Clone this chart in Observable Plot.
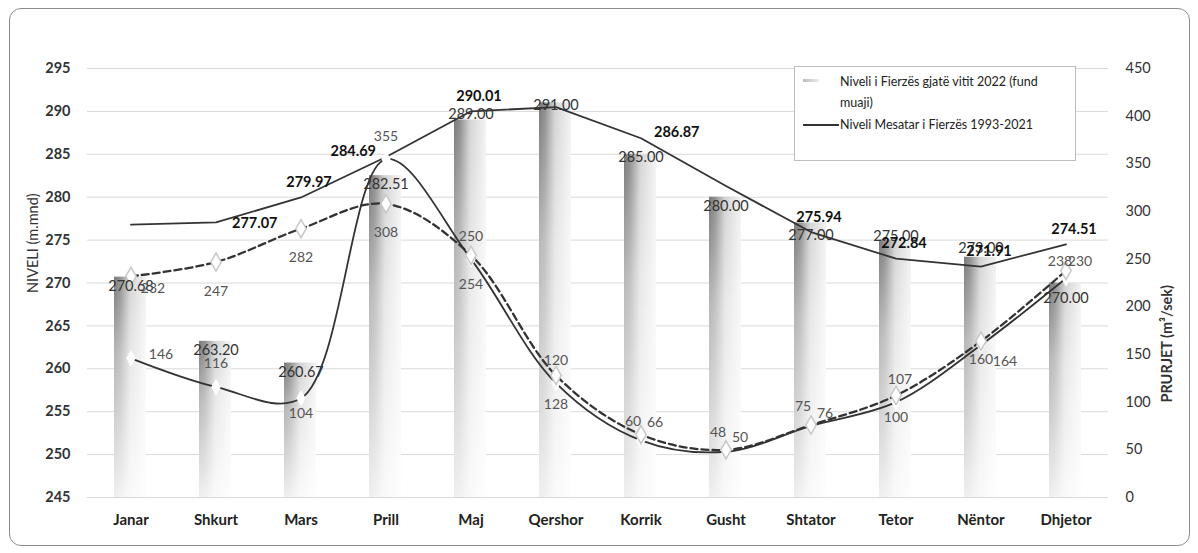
<!DOCTYPE html>
<html><head><meta charset="utf-8">
<script src="https://cdn.jsdelivr.net/npm/d3@7"></script>
<script src="https://cdn.jsdelivr.net/npm/@observablehq/plot@0.6"></script>
<style>
body{margin:0;background:#fff;font-family:Lato,"Open Sans",sans-serif;}
#wrap{position:relative;width:1198px;height:553px;overflow:hidden;}
#border{position:absolute;left:9px;top:8px;width:1179px;height:536px;border:1.5px solid #8c8c8c;border-radius:12px;pointer-events:none;}
#legend{position:absolute;left:794px;top:66px;width:280px;height:93px;border:1px solid #bdbdbd;background:#fff;font-size:12.5px;color:#222;}
#legend .t{position:absolute;left:45px;white-space:nowrap;line-height:21px;}
#legend .sw1{position:absolute;left:8px;top:12px;width:16px;height:3px;background:linear-gradient(90deg,#bbb,#eee);}
#legend .sw2{position:absolute;left:8px;top:57px;width:36px;height:2px;background:#333;}
</style></head>
<body>
<div id="wrap">
  <div id="chart"></div>
  <div id="legend">
    <div class="sw1"></div>
    <div class="t" style="top:4px">Niveli i Fierzës gjatë vitit 2022 (fund<br>muaji)</div>
    <div class="sw2"></div>
    <div class="t" style="top:47px">Niveli Mesatar i Fierzës 1993-2021</div>
  </div>
  <div id="border"></div>
</div>
<script>
const months = ["Janar","Shkurt","Mars","Prill","Maj","Qershor","Korrik","Gusht","Shtator","Tetor","Nëntor","Dhjetor"];
const level2022 = [270.68, 263.20, 260.67, 282.51, 289.00, 291.00, 285.00, 280.00, 277.00, 275.00, 273.00, 270.00];
const levelAvg  = [276.8, 277.07, 279.97, 284.69, 290.01, 290.5, 286.87, 281.3, 275.94, 272.84, 271.91, 274.51];
const flowSolid  = [146, 116, 104, 355, 250, 120, 60, 48, 75, 100, 160, 230];
const flowDashed = [232, 247, 282, 308, 254, 128, 66, 50, 76, 107, 164, 238];
const levelTicks = d3.range(245, 296, 5);
const flowTicks = d3.range(0, 451, 50);
const avgHidden = ["Janar","Qershor","Gusht"];

const L0 = 245, L1 = 295, F1 = 450;
const toLevel = f => L0 + f / F1 * (L1 - L0);
const rows = months.map((m, i) => ({
  month: m, level: level2022[i], avg: levelAvg[i],
  fs: toLevel(flowSolid[i]), fd: toLevel(flowDashed[i]),
  fsV: flowSolid[i], fdV: flowDashed[i]
}));
const pick = list => rows.filter(r => list.includes(r.month));

function lbl(list, y, text, o) {
  return Plot.text(pick(list), Object.assign({x: "month", y, text, fontSize: 14}, o));
}

const flowStyle = {fill: "#555"};
const avgStyle = {fill: "#111", fontWeight: "bold", fontSize: 14.5};
const barStyle = {fill: "#333", fontSize: 14.5};
const avgShown = months.filter(m => !avgHidden.includes(m));
const barText = d => d.level.toFixed(2);

const chart = Plot.plot({
  width: 1198, height: 553,
  marginLeft: 87, marginRight: 90, marginTop: 68, marginBottom: 56,
  style: {fontFamily: "Lato, 'Open Sans', sans-serif", fontSize: "14px", color: "#222", background: "transparent"},
  x: {domain: months, padding: 0},
  y: {domain: [L0, L1]},
  marks: [
    Plot.gridY(levelTicks, {stroke: "#d9d9d9", strokeOpacity: 1}),
    Plot.barY(rows, {x: "month", y1: L0, y2: "level", fill: "url(#hgrad)", insetLeft: 26, insetRight: 27}),
    Plot.barY(rows, {x: "month", y1: L0, y2: "level", fill: "url(#vgrad)", insetLeft: 26, insetRight: 27}),
    Plot.line(rows, {x: "month", y: "avg", stroke: "#333", strokeWidth: 1.8}),
    Plot.line(rows, {x: "month", y: "fs", curve: "catmull-rom", stroke: "#333", strokeWidth: 1.8}),
    Plot.line(rows, {x: "month", y: "fd", curve: "catmull-rom", stroke: "#333", strokeWidth: 2.3, strokeDasharray: "7,4"}),
    Plot.dot(rows, {x: "month", y: "fs", symbol: "diamond", r: 5, fill: "white", stroke: "none"}),
    Plot.dot(rows, {x: "month", y: "fd", symbol: "diamond", r: 5.5, fill: "white", stroke: "#c8c8c8"}),
    // bar labels
    lbl(["Janar","Shkurt","Mars","Prill","Gusht"], "level", barText, {...barStyle, dy: 9}),
    lbl(["Shtator"], "level", barText, {...barStyle, dy: 12}),
    lbl(["Qershor","Korrik"], "level", barText, {...barStyle, dy: 3}),
    lbl(["Maj"], "level", barText, {...barStyle, dy: -6}),
    lbl(["Tetor"], "level", barText, {...barStyle, dy: -4}),
    lbl(["Nëntor"], "level", barText, {...barStyle, dy: -9}),
    lbl(["Dhjetor"], "level", barText, {...barStyle, dy: 15}),
    // average level labels
    lbl(avgShown.filter(m => !["Shkurt","Prill","Korrik"].includes(m)), "avg", d => d.avg.toFixed(2), {...avgStyle, dx: 8, dy: -15}),
    lbl(["Shkurt"], "avg", d => d.avg.toFixed(2), {...avgStyle, textAnchor: "start", dx: 16, dy: 1}),
    lbl(["Korrik"], "avg", d => d.avg.toFixed(2), {...avgStyle, textAnchor: "start", dx: 13, dy: -6}),
    lbl(["Prill"], "avg", d => d.avg.toFixed(2), {...avgStyle, textAnchor: "end", dx: -10, dy: -6}),
    // solid flow labels
    lbl(["Janar"], "fs", d => d.fsV, {...flowStyle, dx: 30, dy: -4}),
    lbl(["Shkurt","Prill","Maj","Qershor"], "fs", d => d.fsV, {...flowStyle, dy: -23}),
    lbl(["Korrik","Gusht","Shtator"], "fs", d => d.fsV, {...flowStyle, dx: -8, dy: -19}),
    lbl(["Dhjetor"], "fs", d => d.fsV, {...flowStyle, dx: 14, dy: -17}),
    lbl(["Mars","Tetor","Nëntor"], "fs", d => d.fsV, {...flowStyle, dy: 15}),
    // dashed flow labels
    lbl(["Janar"], "fd", d => d.fdV, {...flowStyle, dx: 22, dy: 12}),
    lbl(["Shkurt","Mars","Prill","Maj","Qershor"], "fd", d => d.fdV, {...flowStyle, dy: 29}),
    lbl(["Nëntor"], "fd", d => d.fdV, {...flowStyle, dx: 24, dy: 20}),
    lbl(["Korrik","Gusht","Shtator"], "fd", d => d.fdV, {...flowStyle, dx: 14, dy: -12}),
    lbl(["Tetor"], "fd", d => d.fdV, {...flowStyle, dx: 4, dy: -16}),
    lbl(["Dhjetor"], "fd", d => d.fdV, {...flowStyle, dx: -6, dy: -9}),
    // axes
    Plot.axisY(levelTicks, {anchor: "left", tickSize: 0, tickPadding: 17, fontWeight: "bold", fontSize: 14.5, fill: "#333", label: null}),
    Plot.axisY(flowTicks.map(toLevel), {anchor: "right", tickSize: 0, tickPadding: 17, fontSize: 14.5, fill: "#333", label: null,
      tickFormat: d => Math.round((d - L0) / (L1 - L0) * F1)}),
    Plot.axisX({tickSize: 0, tickPadding: 17, fontWeight: "bold", fontSize: 15, fill: "#222", label: null}),
    Plot.text(["NIVELI (m.mnd)"], {frameAnchor: "left", dx: -54, dy: 10, rotate: -90, fontSize: 14.5, fill: "#333"}),
    Plot.text(["PRURJET (m³/sek)"], {frameAnchor: "right", dx: 59, dy: 2, rotate: -90, fontSize: 14.5, fontWeight: "bold", fill: "#333"})
  ]
});

const ns = "http://www.w3.org/2000/svg";
const defs = document.createElementNS(ns, "defs");
defs.innerHTML = `
<linearGradient id="hgrad" x1="0" y1="0" x2="1" y2="0">
  <stop offset="0" stop-color="#7a7a7a"/>
  <stop offset="0.18" stop-color="#8e8e8e"/>
  <stop offset="0.5" stop-color="#d4d4d4"/>
  <stop offset="1" stop-color="#f3f3f3"/>
</linearGradient>
<linearGradient id="vgrad" x1="0" y1="0" x2="0" y2="1">
  <stop offset="0" stop-color="#fff" stop-opacity="0"/>
  <stop offset="0.35" stop-color="#fff" stop-opacity="0.45"/>
  <stop offset="1" stop-color="#fff" stop-opacity="0.88"/>
</linearGradient>`;
chart.insertBefore(defs, chart.firstChild);
document.getElementById("chart").appendChild(chart);
</script>
</body></html>
